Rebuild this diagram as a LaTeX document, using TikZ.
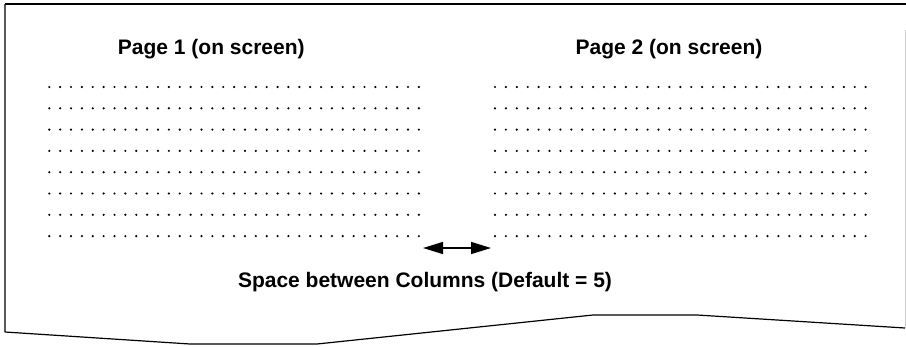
\documentclass[tikz,border=0pt]{standalone}
\usepackage{fontspec}
\setmainfont{Liberation Sans}
\usetikzlibrary{arrows.meta}
\tikzset{
  pagetitle/.style={font=\fontsize{21}{25}\selectfont\bfseries, anchor=base},
  gaparrow/.style={{Triangle[length=20pt,width=12pt]}-{Triangle[length=20pt,width=12pt]}, line width=1.5pt}
}
\begin{document}
\begin{tikzpicture}[x=1pt,y=-1pt]
  \useasboundingbox (0,0) rectangle (906,346);
  % sheet outline
  \draw[line width=2pt] (5,4) -- (906,4);
  \draw[line width=1.2pt, line join=round] (5,4) -- (5,332) -- (190,344) -- (317,344)
    -- (593,315) -- (697,315) -- (905,328);
  \draw[gray!40, line width=1pt] (905,30) -- (905,328);
  % page 1
  \begin{scope}[xshift=49.3pt]
    \node[pagetitle] (title1) at (162,54) {Page 1 (on screen)};
    \foreach \r in {0,...,7}
      \foreach \c in {0,...,34}
        \fill (\c*10.87, 87+\r*21.3) circle (1.2pt);
  \end{scope}
  % page 2
  \begin{scope}[xshift=495pt]
    \node[pagetitle] (title2) at (174,54) {Page 2 (on screen)};
    \foreach \r in {0,...,7}
      \foreach \c in {0,...,34}
        \fill (\c*10.9, 87+\r*21.3) circle (1.2pt);
  \end{scope}
  % column gap
  \coordinate (gapL) at (423,248);
  \coordinate (gapR) at (491,248);
  \draw[gaparrow] (gapL) -- (gapR);
  \node[pagetitle] (gaplabel) at (425,287) {Space between Columns (Default = 5)};
\end{tikzpicture}
\end{document}
